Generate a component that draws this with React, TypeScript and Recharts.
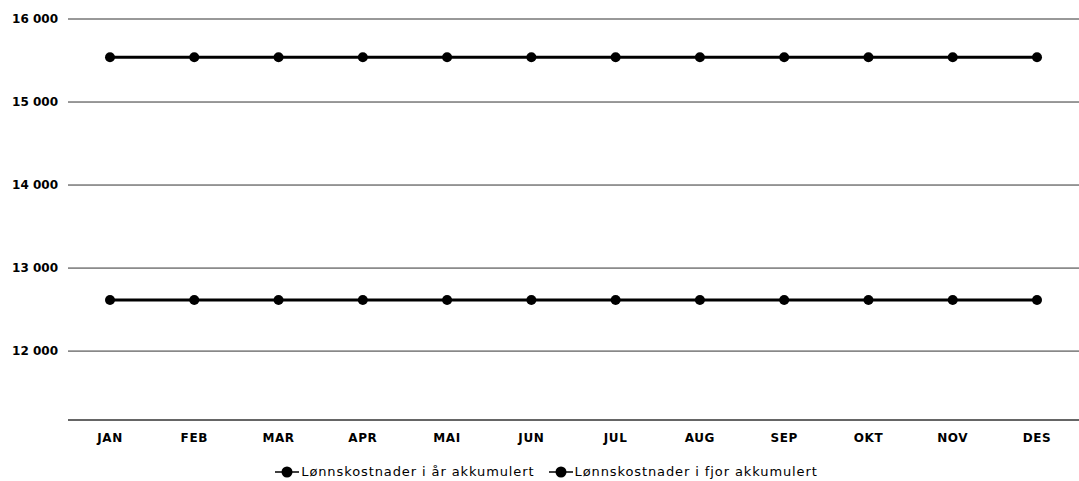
import React from 'react'
import { LineChart, Line, XAxis, YAxis, CartesianGrid, Legend } from 'recharts'

// ── Data ─────────────────────────────────────────────────────────────────────

const MONTHS = ['JAN', 'FEB', 'MAR', 'APR', 'MAI', 'JUN', 'JUL', 'AUG', 'SEP', 'OKT', 'NOV', 'DES']
const I_AAR = [15540, 15540, 15540, 15540, 15540, 15540, 15540, 15540, 15540, 15540, 15540, 15540]
const I_FJOR = [12615, 12615, 12615, 12615, 12615, 12615, 12615, 12615, 12615, 12615, 12615, 12615]
const Y_TICKS = [12000, 13000, 14000, 15000, 16000]

const SERIES = [
  { key: 'iaar', label: 'Lønnskostnader i år akkumulert', values: I_AAR },
  { key: 'ifjor', label: 'Lønnskostnader i fjor akkumulert', values: I_FJOR },
]

const rows = MONTHS.map((m, i) => {
  const row: Record<string, string | number> = { name: m }
  SERIES.forEach(s => { row[s.key] = s.values[i] })
  return row
})

const FONT = '"DejaVu Sans", Verdana, sans-serif'

const fmt = (v: number) => String(v).replace(/\B(?=(\d{3})+(?!\d))/g, ' ')

function LegendContent() {
  return (
    <div style={{ display: 'flex', justifyContent: 'center', gap: 14, fontFamily: FONT, fontSize: 13, letterSpacing: 0.9, color: '#000', paddingLeft: 14, paddingTop: 9 }}>
      {SERIES.map(s => (
        <div key={s.key} style={{ display: 'flex', alignItems: 'center' }}>
          <svg width={24} height={12} style={{ marginRight: 2 }}>
            <line x1={0} y1={6} x2={24} y2={6} stroke="#000" strokeWidth={1.5} />
            <circle cx={12} cy={6} r={5.5} fill="#000" />
          </svg>
          <span>{s.label}</span>
        </div>
      ))}
    </div>
  )
}

export default function App() {
  return (
    <div style={{ position: 'absolute', left: 0, top: 0, width: 1079, height: 481, background: '#fff' }}>
      <LineChart width={1079} height={481} data={rows} margin={{ top: 19, right: 0, bottom: 4, left: 0 }}>
        <CartesianGrid vertical={false} stroke="#333" strokeWidth={1} />
        <XAxis
          dataKey="name"
          padding={{ left: 42, right: 42 }}
          tickLine={false}
          axisLine={{ stroke: '#333' }}
          height={35}
          tick={{ fontFamily: FONT, fontSize: 12, fontWeight: 'bold', fill: '#000', letterSpacing: 0.6, dy: 5 }}
        />
        <YAxis
          width={68}
          domain={[11170, 16000]}
          ticks={Y_TICKS}
          allowDataOverflow
          tickFormatter={fmt}
          axisLine={false}
          tickLine={false}
          tickMargin={4}
          tick={{ fontFamily: FONT, fontSize: 12, fontWeight: 'bold', fill: '#000' }}
        />
        <Legend verticalAlign="bottom" height={22} content={() => <LegendContent />} />
        {SERIES.map(s => (
          <Line
            key={s.key}
            dataKey={s.key}
            name={s.label}
            type="linear"
            stroke="#000"
            strokeWidth={3}
            dot={{ r: 5, fill: '#000', stroke: '#000', strokeWidth: 0 }}
            isAnimationActive={false}
          />
        ))}
      </LineChart>
    </div>
  )
}
